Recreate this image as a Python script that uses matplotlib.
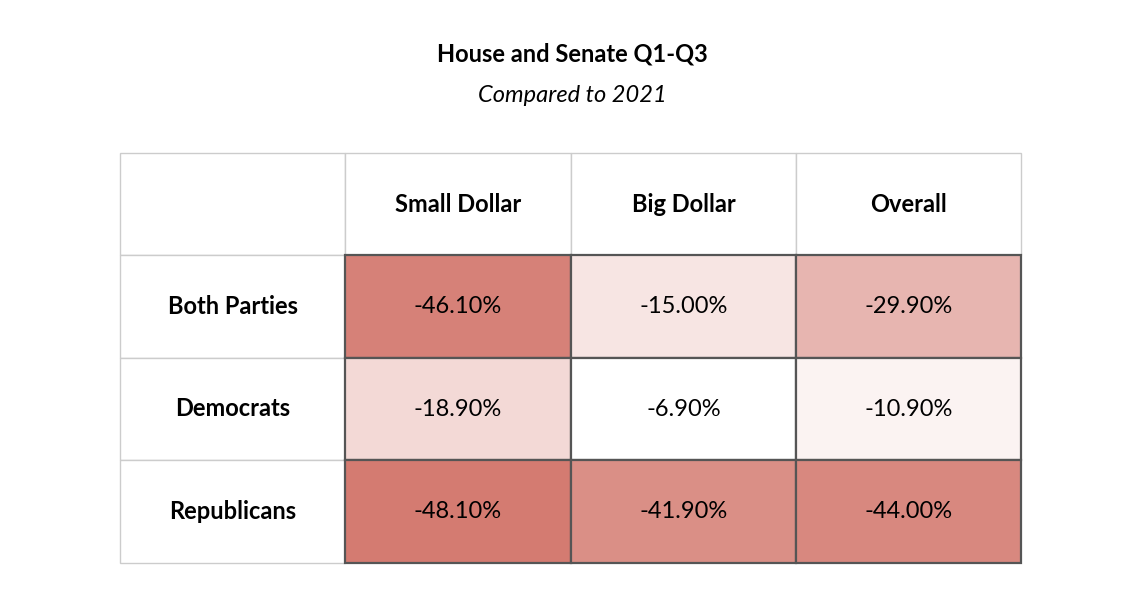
import matplotlib
matplotlib.use("Agg")
import matplotlib.pyplot as plt
from matplotlib.colors import LinearSegmentedColormap, Normalize
from matplotlib.patches import Rectangle

title = "House and Senate Q1-Q3"
subtitle = "Compared to 2021"
columns = ["Small Dollar", "Big Dollar", "Overall"]
rows = ["Both Parties", "Democrats", "Republicans"]
values = [[-46.1, -15.0, -29.9],
          [-18.9, -6.9, -10.9],
          [-48.1, -41.9, -44.0]]

plt.rcParams['font.family'] = ['Lato', 'DejaVu Sans']
W, H = 1144, 601
fig = plt.figure(figsize=(W/100, H/100), dpi=100)
ax = fig.add_axes([0, 0, 1, 1])
ax.set_xlim(0, W); ax.set_ylim(H, 0); ax.axis('off')

cmap = LinearSegmentedColormap.from_list("r", ["#d47b71", "#ffffff"])
norm = Normalize(vmin=-48.1, vmax=-6.9)

xs = [120, 345, 571, 796, 1021]
ys = [153, 255, 358, 460, 563]
light = "#cccccc"
for j in range(4):
    ax.add_patch(Rectangle((xs[j], ys[0]), xs[j+1]-xs[j], ys[1]-ys[0], fc='white', ec=light, lw=1))
for i in range(3):
    ax.add_patch(Rectangle((xs[0], ys[i+1]), xs[1]-xs[0], ys[i+2]-ys[i+1], fc='white', ec=light, lw=1))
    ax.text((xs[0]+xs[1])/2, (ys[i+1]+ys[i+2])/2, rows[i], ha='center', va='center',
            fontsize=17, fontweight='bold', color='black')
for j, c in enumerate(columns):
    ax.text((xs[j+1]+xs[j+2])/2, (ys[0]+ys[1])/2, c, ha='center', va='center',
            fontsize=17, fontweight='bold', color='black')
for i in range(3):
    for j in range(3):
        v = values[i][j]
        ax.add_patch(Rectangle((xs[j+1], ys[i+1]), xs[j+2]-xs[j+1], ys[i+2]-ys[i+1],
                               fc=cmap(norm(v)), ec='#555555', lw=1.6, zorder=2))
        ax.text((xs[j+1]+xs[j+2])/2, (ys[i+1]+ys[i+2])/2, f"{v:.2f}%", ha='center', va='center',
                fontsize=17, color='black', zorder=3)

ax.text(W/2, 54, title, ha='center', va='center', fontsize=17, fontweight='bold')
ax.text(W/2, 95, subtitle, ha='center', va='center', fontsize=17, style='italic')
fig.savefig("out.png", dpi=100)
